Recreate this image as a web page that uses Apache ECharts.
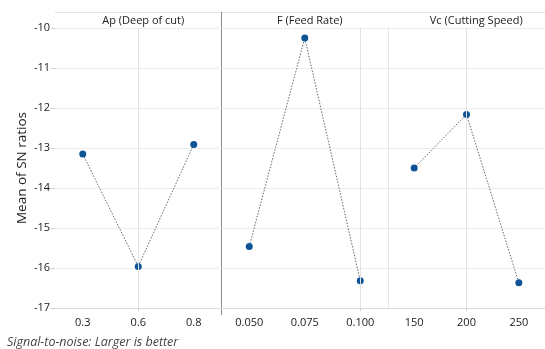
<!DOCTYPE html>
<html><head><meta charset="utf-8">
<script src="https://cdn.jsdelivr.net/npm/echarts@6/dist/echarts.min.js"></script>
<style>html,body{margin:0;padding:0;background:#fff}#c{width:545px;height:349px}</style>
</head><body><div id="c"></div>
<script>
const panelTitles = ['Ap (Deep of cut)', 'F (Feed Rate)', 'Vc (Cutting Speed)'];
const apLevels = ['0.3', '0.6', '0.8'];
const fLevels = ['0.050', '0.075', '0.100'];
const vcLevels = ['150', '200', '250'];
const apSN = [-13.15, -15.96, -12.91];
const fSN = [-15.46, -10.25, -16.32];
const vcSN = [-13.50, -12.16, -16.37];
const gridCats = ['0.6', '0.100', '200'];
const yName = 'Mean of SN ratios';
const footnote = 'Signal-to-noise: Larger is better';

const levels = [apLevels, fLevels, vcLevels];
const values = [apSN, fSN, vcSN];

const L = 55, W = 166.5, TOP = 28, H = 280;
const font = '"Open Sans", "Noto Sans", sans-serif';
const grids = [], xAxes = [], yAxes = [], series = [], titles = [];
for (let i = 0; i < 3; i++) {
  grids.push({left: L + i * W, top: TOP, width: W, height: H});
  xAxes.push({
    type: 'category', gridIndex: i, data: levels[i], boundaryGap: true,
    axisLine: {lineStyle: {color: '#dcdcdc'}},
    axisTick: {show: true, alignWithLabel: true, length: 3, lineStyle: {color: '#cfcfcf'},
      interval: (idx, v) => gridCats.includes(v)},
    axisLabel: {color: '#1a1a1a', fontSize: 11, fontFamily: font, margin: 9},
    splitLine: {show: false}
  });
  yAxes.push({
    type: 'value', gridIndex: i, min: -17, max: -10, interval: 1,
    axisLine: {show: i === 2, lineStyle: {color: '#e6e6e6'}},
    axisTick: {show: i === 0, length: 4, lineStyle: {color: '#cfcfcf'}},
    axisLabel: {show: i === 0, color: '#1a1a1a', fontSize: 11, fontFamily: font, margin: 5,
      hideOverlap: false, formatter: v => String(Math.round(v))},
    splitLine: {show: true, lineStyle: {color: '#ececec', width: 1}}
  });
  const gc = levels[i].filter(v => gridCats.includes(v));
  series.push({
    type: 'line', xAxisIndex: i, yAxisIndex: i, data: values[i],
    symbol: 'circle', symbolSize: 7,
    itemStyle: {color: '#0f5496'},
    lineStyle: {color: '#5a6b70', width: 1, type: [1.5, 1.5]},
    markLine: {silent: true, symbol: 'none', label: {show: false},
      lineStyle: {color: '#e3e3e3', type: 'solid', width: 1},
      data: gc.map(v => ({xAxis: v}))},
    z: 3
  });
  titles.push({text: panelTitles[i], left: L + i * W + W / 2, top: 10, textAlign: 'center',
    textStyle: {fontSize: 11, fontWeight: 'normal', color: '#222', fontFamily: font}});
}
titles.push({text: footnote, left: 2, top: 331,
  textStyle: {fontSize: 12.5, fontStyle: 'italic', fontWeight: 'normal', color: '#444', fontFamily: font}});

const chart = echarts.init(document.getElementById('c'), null, {renderer: 'canvas'});
chart.setOption({
  animation: false,
  title: titles,
  grid: grids, xAxis: xAxes, yAxis: yAxes, series: series,
  graphic: [
    {type: 'line', shape: {x1: L, y1: 12.5, x2: 545, y2: 12.5}, style: {stroke: '#e3e3e3', lineWidth: 1}},
    {type: 'line', shape: {x1: L + W, y1: 12, x2: L + W, y2: 315}, style: {stroke: '#8a8a8a', lineWidth: 1}},
    {type: 'text', x: 22, y: TOP + H / 2, rotation: Math.PI / 2,
      style: {text: yName, fill: '#222', font: '13.5px ' + font, align: 'center', verticalAlign: 'middle'}}
  ]
});
</script></body></html>
